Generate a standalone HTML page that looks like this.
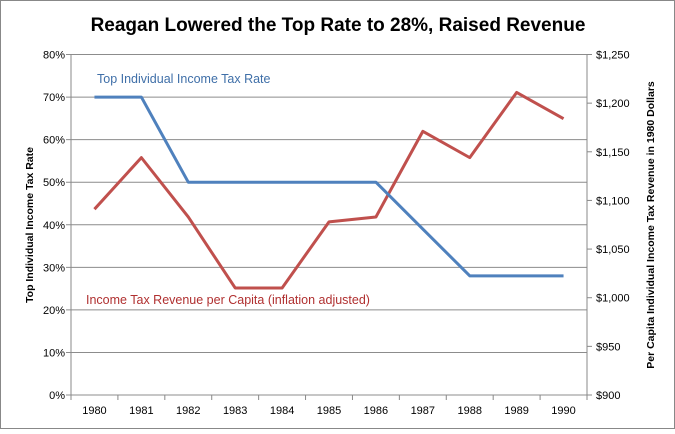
<!DOCTYPE html>
<html><head><meta charset="utf-8"><style>
body{margin:0;background:#fff}
svg text{font-family:"Liberation Sans",Arial,sans-serif}
</style></head><body>
<svg width="675" height="429" viewBox="0 0 675 429">
<rect x="0.5" y="0.5" width="674" height="428" fill="#fff" stroke="#888"/>
<text x="338" y="31" text-anchor="middle" font-size="19" font-weight="bold" fill="#000">Reagan Lowered the Top Rate to 28%, Raised Revenue</text>
<g id="grid"></g>
<g id="axes"></g>
<g id="series"></g>
<text x="97" y="83" font-size="12.5" fill="#3f6fa8">Top Individual  Income Tax Rate</text>
<text x="86" y="304" font-size="12.5" fill="#b03030">Income Tax Revenue  per Capita (inflation adjusted)</text>
<text transform="translate(33,225) rotate(-90)" text-anchor="middle" font-size="10.5" font-weight="bold">Top Individual  Income Tax Rate</text>
<text transform="translate(654,225) rotate(-90)" text-anchor="middle" font-size="10.5" font-weight="bold">Per Capita Individual  Income Tax Revenue in 1980 Dollars</text>
</svg>
<script>
const years=["1980","1981","1982","1983","1984","1985","1986","1987","1988","1989","1990"];
const rate=[70,70,50,50,50,50,50,39,28,28,28];
const revenue=[1091,1144,1083,1010,1010,1078,1083,1171,1144,1211,1184];
const leftTicks=["0%","10%","20%","30%","40%","50%","60%","70%","80%"];
const rightTicks=["$900","$950","$1,000","$1,050","$1,100","$1,150","$1,200","$1,250"];
const NS="http://www.w3.org/2000/svg";
const L=71,R=587,T=54.5,B=395;
const BW=(R-L)/11;
function yL(v){return B-(v/80)*(B-T);}
function yR(v){return B-((v-900)/350)*(B-T);}
function xC(i){return L+BW*(i+0.5);}
function mk(tag,attrs,parent){const e=document.createElementNS(NS,tag);for(const k in attrs)e.setAttribute(k,attrs[k]);document.getElementById(parent).appendChild(e);return e;}
leftTicks.forEach((t,i)=>{const y=yL(i*10);
 const g=mk('line',{x1:L-5,x2:R,y1:y,y2:y,stroke:'#8c8c8c','stroke-width':1},'grid');
 
 
 const tx=mk('text',{x:L-6,y:y+4,'text-anchor':'end','font-size':11},'axes');tx.textContent=t;
 
 
});
rightTicks.forEach((t,i)=>{const y=yR(900+i*50);
 const m=mk('line',{x1:R,x2:R+5,y1:y,y2:y,stroke:'#888'},'axes');
 
 
 const tx=mk('text',{x:R+9,y:y+4,'font-size':11},'axes');tx.textContent=t;
 
 
});
const la=mk('line',{x1:L,x2:L,y1:T,y2:B,stroke:'#888'},'axes');


const ra=mk('line',{x1:R,x2:R,y1:T,y2:B+5,stroke:'#888'},'axes');


years.forEach((t,i)=>{
 const m=mk('line',{x1:L+BW*i,x2:L+BW*i,y1:B,y2:B+5,stroke:'#888'},'axes');
 
 
 const tx=mk('text',{x:xC(i),y:B+19,'text-anchor':'middle','font-size':11},'axes');tx.textContent=t;
 
 
});
const rl=mk('polyline',{points:revenue.map((v,i)=>xC(i)+','+yR(v)).join(' '),fill:'none',stroke:'#c0504d','stroke-width':3,'stroke-linejoin':'round'},'series');


const bl=mk('polyline',{points:rate.map((v,i)=>xC(i)+','+yL(v)).join(' '),fill:'none',stroke:'#4f81bd','stroke-width':3,'stroke-linejoin':'round'},'series');


</script>
</body></html>
